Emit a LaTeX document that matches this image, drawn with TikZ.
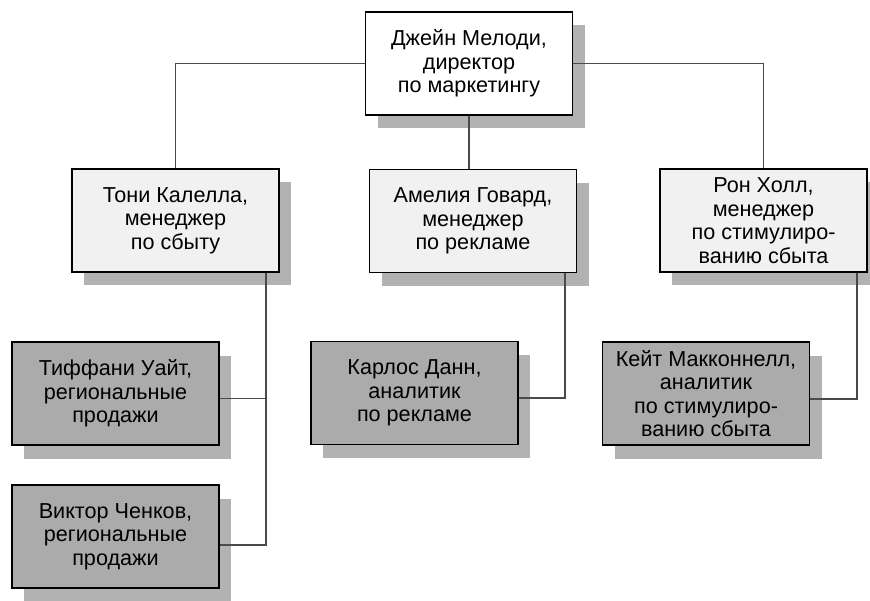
\documentclass[tikz,border=0pt]{standalone}
\usepackage{fontspec}
\setmainfont{Liberation Sans}
\usetikzlibrary{shadows,calc,positioning}
\definecolor{headfill}{HTML}{F1F1F1}
\definecolor{stafffill}{HTML}{ABABAB}
\definecolor{shadowgray}{HTML}{B2B2B2}
\definecolor{linkgray}{HTML}{4A4A4A}

\tikzset{
  post/.style={draw, line width=0.7pt, fill=headfill, minimum width=4.14cm,
    minimum height=2.06cm, align=center, inner sep=2pt,
    font=\fontsize{12.3}{13.4}\selectfont,
    drop shadow={shadow xshift=0.24cm, shadow yshift=-0.27cm, fill=shadowgray, opacity=1}},
  staff/.style={post, fill=stafffill},
  link/.style={draw=linkgray, line width=1.1pt}
}

\begin{document}
\begin{tikzpicture}
  \useasboundingbox (0,0) rectangle (17.4,12);
  % Head of marketing
  \node[post, fill=white] (dir) at (9.38,10.73) {Джейн Мелоди,\\директор\\по маркетингу};
  % Managers
  \node[post] (toni) at (3.51,7.59) {Тони Калелла,\\менеджер\\по сбыту};
  \node[post] (amelia) at (9.46,7.58) {Амелия Говард,\\менеджер\\по рекламе};
  \node[post] (ron) at (15.27,7.59) {Рон Холл,\\менеджер\\по стимулиро-\\ванию сбыта};
  % Staff
  \node[staff] (tif) at (2.31,4.13) {Тиффани Уайт,\\региональные\\продажи};
  \node[staff] (vik) at (2.31,1.27) {Виктор Ченков,\\региональные\\продажи};
  \node[staff] (carlos) at (8.29,4.14) {Карлос Данн,\\аналитик\\по рекламе};
  \node[staff] (kate) at (14.12,4.13) {Кейт Макконнелл,\\аналитик\\по стимулиро-\\ванию сбыта};
  % Connectors
  \draw[link] (dir.west) -| (toni.north);
  \draw[link] (dir.east) -| (ron.north);
  \draw[link] (dir.south) -- (dir.south |- amelia.north);
  \coordinate (toniDrop) at ($(toni.south east)+(-0.28,0)$);
  \coordinate (ameliaDrop) at ($(amelia.south east)+(-0.25,0)$);
  \coordinate (ronDrop) at ($(ron.south east)+(-0.22,0)$);
  \draw[link] (toniDrop) |- ([yshift=-1mm]tif.east);
  \draw[link] (toniDrop) |- ([yshift=-1.7mm]vik.east);
  \draw[link] (ameliaDrop) |- ([yshift=-1mm]carlos.east);
  \draw[link] (ronDrop) |- ([yshift=-1.1mm]kate.east);
\end{tikzpicture}
\end{document}
